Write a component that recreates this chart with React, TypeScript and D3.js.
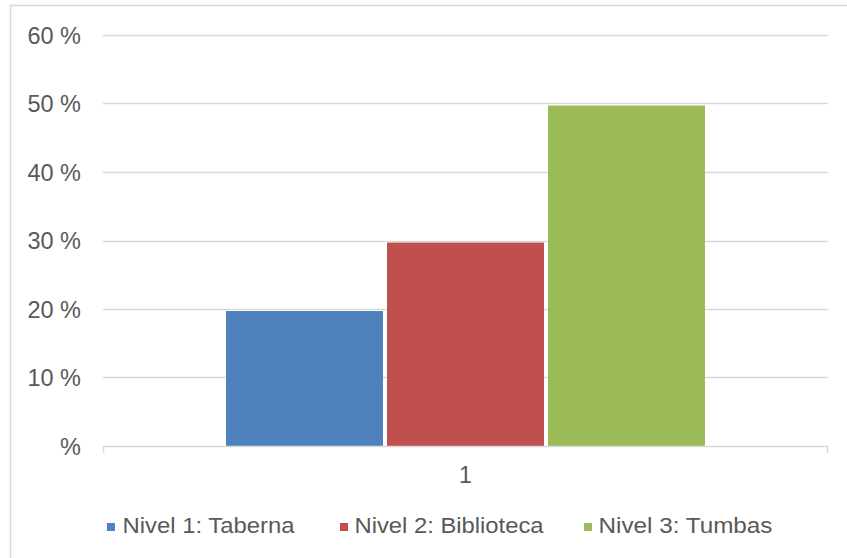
import React from "react";
import * as d3 from "d3";

const categories = ["1"];
const seriesNames = ["Nivel 1: Taberna", "Nivel 2: Biblioteca", "Nivel 3: Tumbas"];
const seriesValues = [0.197, 0.297, 0.497];
const seriesColors = ["#4F81BD", "#C0504D", "#9BBB59"];
const yTicks = [0, 0.1, 0.2, 0.3, 0.4, 0.5, 0.6];
const yTickLabels = ["%", "10 %", "20 %", "30 %", "40 %", "50 %", "60 %"];

const W = 847;
const H = 558;
const plot = { left: 103, right: 828, top: 35, bottom: 446 };

export default function App() {
  const x0 = d3
    .scaleBand<string>()
    .domain(categories)
    .range([plot.left, plot.right])
    .paddingInner(0)
    .paddingOuter(0.2568);
  const x1 = d3
    .scaleBand<string>()
    .domain(seriesNames)
    .range([0, x0.bandwidth()])
    .paddingInner(0.025)
    .paddingOuter(0);
  const y = d3.scaleLinear().domain([0, 0.6]).range([plot.bottom, plot.top]);

  const textColor = "#595959";
  const gridColor = "#d9d9d9";
  const font = "Liberation Sans, Arial, sans-serif";

  const legendItems = [
    { sq: 107, tx: 122.5, tw: 172 },
    { sq: 340, tx: 354.5, tw: 189 },
    { sq: 584, tx: 598.5, tw: 174 },
  ];

  return (
    <svg
      width={W}
      height={H}
      style={{ position: "absolute", left: 0, top: 0, display: "block", background: "#fff" }}
      fontFamily={font}
    >
      <rect x={10.5} y={5.5} width={850} height={570} fill="#fff" stroke={gridColor} strokeWidth={1.5} />
      {yTicks.map((t, i) => (
        <g key={i}>
          {i > 0 && (
            <line
              x1={plot.left}
              x2={plot.right}
              y1={Math.round(y(t)) + 0.5}
              y2={Math.round(y(t)) + 0.5}
              stroke={gridColor}
              strokeWidth={1.5}
            />
          )}
          <text
            x={81}
            y={y(t) + 8.5}
            textAnchor="end"
            fontSize={23.5}
            fill={textColor}
          >
            {yTickLabels[i]}
          </text>
        </g>
      ))}
      {categories.map((c) => (
        <g key={c}>
          {seriesNames.map((s, j) => (
            <rect
              key={s}
              x={(x0(c) ?? 0) + (x1(s) ?? 0)}
              y={y(seriesValues[j])}
              width={x1.bandwidth()}
              height={y(0) - y(seriesValues[j])}
              fill={seriesColors[j]}
            />
          ))}
          <text
            x={(x0(c) ?? 0) + x0.bandwidth() / 2}
            y={482.5}
            textAnchor="middle"
            fontSize={23}
            fill={textColor}
          >
            {c}
          </text>
        </g>
      ))}
      <line x1={plot.left} x2={plot.right} y1={446.5} y2={446.5} stroke={gridColor} strokeWidth={1.5} />
      <line x1={plot.left + 0.5} x2={plot.left + 0.5} y1={446} y2={453} stroke={gridColor} strokeWidth={1.5} />
      <line x1={plot.right - 0.5} x2={plot.right - 0.5} y1={446} y2={453} stroke={gridColor} strokeWidth={1.5} />
      {seriesNames.map((s, j) => (
        <g key={s}>
          <rect x={legendItems[j].sq} y={523} width={8} height={8} fill={seriesColors[j]} />
          <text
            x={legendItems[j].tx}
            y={532.5}
            fontSize={21.5}
            fill={textColor}
            textLength={legendItems[j].tw}
            lengthAdjust="spacingAndGlyphs"
          >
            {s}
          </text>
        </g>
      ))}
    </svg>
  );
}
